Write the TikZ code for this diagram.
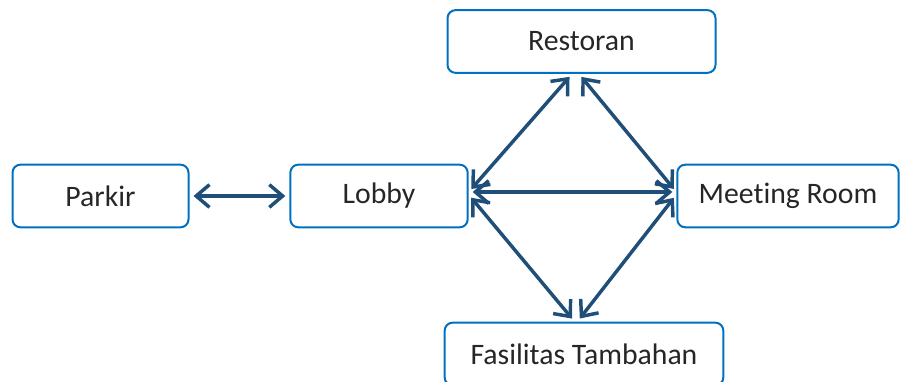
\documentclass[tikz,border=0pt]{standalone}
\usepackage{fontspec}
\setmainfont{Carlito}[Ligatures=NoCommon]
\usetikzlibrary{arrows.meta}

\definecolor{boxblue}{HTML}{0070C0}
\definecolor{arrowblue}{HTML}{1F4E79}
\definecolor{txtgray}{HTML}{262626}

\begin{document}
\begin{tikzpicture}[x=0.75pt,y=0.75pt,
        room/.style={draw=boxblue, line width=1.5pt, rounded corners=6pt, minimum height=47pt,
            text=txtgray, font=\fontsize{22.3pt}{25pt}\selectfont, inner sep=0pt},
        link/.style={arrowblue, line width=2.6pt, {Straight Barb[length=10pt,width=17pt]}-{Straight Barb[length=10pt,width=17pt]},
            shorten <=3pt, shorten >=3pt}]
        \useasboundingbox (0,0) rectangle (900,382);

        \node[room, minimum width=132pt] (parkir) at (100.5, 186) {Parkir};
        \node[room, minimum width=133pt] (lobby) at (379, 186) {Lobby};
        \node[room, minimum width=201pt] (restoran) at (581.5, 340.5) {Restoran};
        \node[room, minimum width=166pt] (meeting) at (788, 186) {Meeting Room};
        \node[room, minimum width=209pt] (fasilitas) at (584, 28) {Fasilitas Tambahan};


        \draw[link] (parkir.east) -- (lobby.west);
        \draw[link] ([yshift=3pt]lobby.east) -- ([xshift=-7pt]restoran.south);
        \draw[link] ([xshift=-2pt]restoran.south) -- ([yshift=3pt]meeting.west);
        \draw[link] ([yshift=3pt]lobby.east) -- ([yshift=3pt]meeting.west);
        \draw[link] ([yshift=1pt]lobby.east) -- ([xshift=-7pt]fasilitas.north);
        \draw[link] ([yshift=1pt]meeting.west) -- ([xshift=-5pt]fasilitas.north);

    \end{tikzpicture}
\end{document}
